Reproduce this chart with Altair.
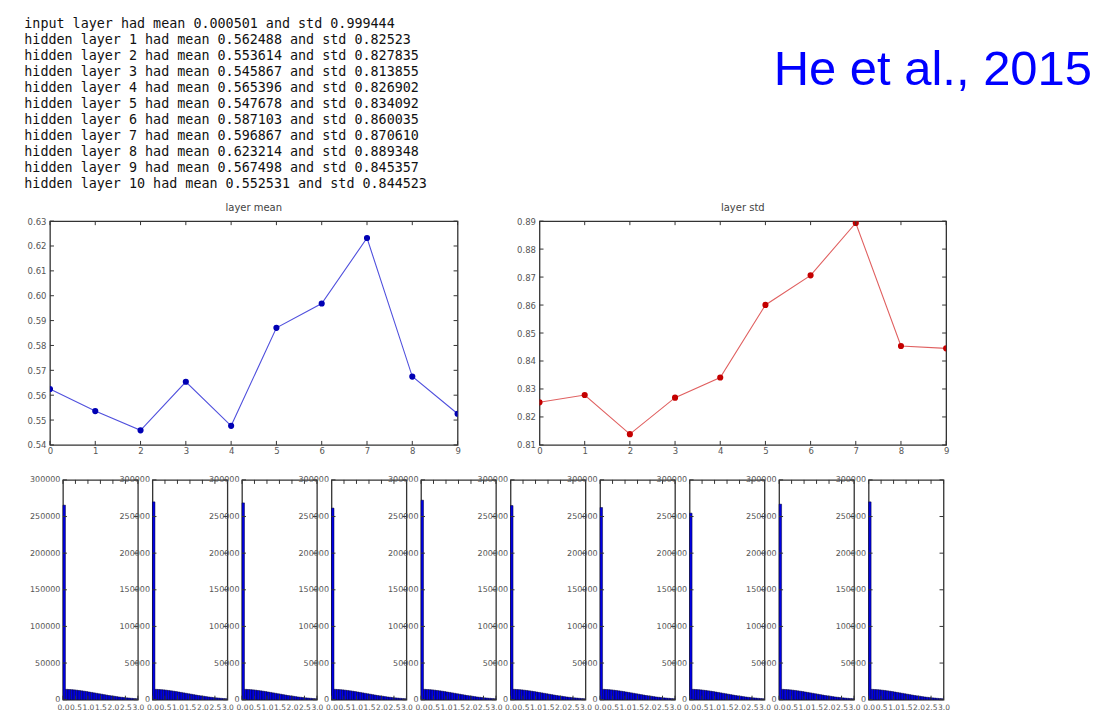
import altair as alt
import pandas as pd

# ---------------- data ----------------
log_lines = [
    "input layer had mean 0.000501 and std 0.999444",
    "hidden layer 1 had mean 0.562488 and std 0.82523",
    "hidden layer 2 had mean 0.553614 and std 0.827835",
    "hidden layer 3 had mean 0.545867 and std 0.813855",
    "hidden layer 4 had mean 0.565396 and std 0.826902",
    "hidden layer 5 had mean 0.547678 and std 0.834092",
    "hidden layer 6 had mean 0.587103 and std 0.860035",
    "hidden layer 7 had mean 0.596867 and std 0.870610",
    "hidden layer 8 had mean 0.623214 and std 0.889348",
    "hidden layer 9 had mean 0.567498 and std 0.845357",
    "hidden layer 10 had mean 0.552531 and std 0.844523",
]
citation = "He et al., 2015"

layers = [0, 1, 2, 3, 4, 5, 6, 7, 8, 9]
layer_means = [0.562488, 0.553614, 0.545867, 0.565396, 0.547678,
               0.587103, 0.596867, 0.623214, 0.567498, 0.552531]
layer_stds = [0.82523, 0.827835, 0.813855, 0.826902, 0.834092,
              0.860035, 0.870610, 0.889348, 0.845357, 0.844523]
mean_ticks = [0.54, 0.55, 0.56, 0.57, 0.58, 0.59, 0.60, 0.61, 0.62, 0.63]
std_ticks = [0.81, 0.82, 0.83, 0.84, 0.85, 0.86, 0.87, 0.88, 0.89]

hist_x_ticks = [0.0, 0.5, 1.0, 1.5, 2.0, 2.5, 3.0]
hist_y_ticks = [0, 50000, 100000, 150000, 200000, 250000, 300000]
bin_edges = [round(0.1 * i, 1) for i in range(31)]
# first bin (zeros from ReLU) of each of the 10 layers
peak_counts = [265500, 270000, 268600, 261500, 272300,
               265000, 262300, 254600, 266900, 270000]
# remaining bins (same look in every panel)
tail_counts = [14100, 13900, 13700, 13400, 13000, 12600, 12100, 11600, 11100,
               10500, 9900, 9300, 8700, 8100, 7500, 6900, 6300, 5700, 5200,
               4700, 4200, 3700, 3300, 2900, 2500, 2200, 1900, 1600, 1400]

# ---------------- style ----------------
FRAME = "#333333"
TICK_LEN = 4

line_df = pd.DataFrame({"layer": layers, "mean": layer_means, "std": layer_stds})

rows = []
for p, peak in enumerate(peak_counts):
    counts = [peak] + tail_counts
    for b, c in enumerate(counts):
        rows.append({"panel": p, "x0": bin_edges[b], "x1": bin_edges[b + 1], "count": c})
hist_df = pd.DataFrame(rows)


def inner_ticks(xvals, yvals, xscale, yscale, xaxis, yaxis, w, h):
    xt = pd.DataFrame({"tx": xvals})
    yt = pd.DataFrame({"ty": yvals})
    r = dict(color=FRAME, strokeWidth=1)
    X = alt.X("tx:Q", scale=xscale, axis=xaxis, title=None)
    Y = alt.Y("ty:Q", scale=yscale, axis=yaxis, title=None)
    top = alt.Chart(xt).mark_rule(**r).encode(x=X, y=alt.value(0), y2=alt.value(TICK_LEN))
    bot = alt.Chart(xt).mark_rule(**r).encode(x=X, y=alt.value(h), y2=alt.value(h - TICK_LEN))
    left = alt.Chart(yt).mark_rule(**r).encode(y=Y, x=alt.value(0), x2=alt.value(TICK_LEN))
    right = alt.Chart(yt).mark_rule(**r).encode(y=Y, x=alt.value(w), x2=alt.value(w - TICK_LEN))
    return [top, bot, left, right]


def line_panel(field, title, yticks, line_color, point_color, w, h):
    xscale = alt.Scale(domain=[0, 9], nice=False, zero=False, padding=0)
    yscale = alt.Scale(domain=[yticks[0], yticks[-1]], nice=False, zero=False, padding=0)
    xaxis = alt.Axis(values=layers, format="d", labelPadding=2)
    yaxis = alt.Axis(values=yticks, format=".2f", labelPadding=4)
    base = alt.Chart(line_df).encode(
        x=alt.X("layer:Q", scale=xscale, title=None, axis=xaxis),
        y=alt.Y(f"{field}:Q", scale=yscale, title=None, axis=yaxis),
    )
    line = base.mark_line(color=line_color, strokeWidth=1.1, clip=True)
    pts = base.mark_circle(color=point_color, size=38, opacity=1, clip=True)
    return alt.layer(line, pts, *inner_ticks(layers, yticks, xscale, yscale, xaxis, yaxis, w, h)).properties(
        width=w, height=h,
        title=alt.TitleParams(title, font="DejaVu Sans", fontSize=10, fontWeight="normal",
                              color="#444444", offset=4, anchor="middle", frame="group"),
    )


def hist_panel(p, w, h):
    xscale = alt.Scale(domain=[0, 3], nice=False, zero=False, padding=0)
    yscale = alt.Scale(domain=[0, 300000], nice=False, zero=True, padding=0)
    xaxis = alt.Axis(values=hist_x_ticks, format=".1f", labelPadding=4, labelFontSize=7.5)
    yaxis = alt.Axis(values=hist_y_ticks, format="d", labelPadding=3, labelFontSize=8)
    bars = alt.Chart(hist_df).transform_filter(alt.datum.panel == p).mark_bar(
        orient="vertical", fill="#0000e6", stroke="#000028", strokeWidth=0.5
    ).encode(
        x=alt.X("x0:Q", scale=xscale, title=None, axis=xaxis),
        x2="x1:Q",
        y=alt.Y("count:Q", scale=yscale, title=None, axis=yaxis),
        y2=alt.datum(0),
    )
    return alt.layer(bars, *inner_ticks(hist_x_ticks, hist_y_ticks, xscale, yscale, xaxis, yaxis, w, h)).properties(
        width=w, height=h)


# ---------------- top: log text + citation ----------------
log_df = pd.DataFrame({"i": list(range(len(log_lines))), "line": log_lines})
log_text = alt.Chart(log_df).mark_text(
    align="left", baseline="middle", font="DejaVu Sans Mono", fontSize=13.4, color="#111111"
).encode(
    y=alt.Y("i:O", axis=None, scale=alt.Scale(padding=0.39)),
    x=alt.value(-25.7),
    text="line:N",
)
cite = alt.Chart(pd.DataFrame({"t": [citation]})).mark_text(
    align="right", baseline="alphabetic", font="Liberation Sans", fontSize=49, color="#0000ff"
).encode(x=alt.value(1043), y=alt.value(67.6), text="t:N")
top = alt.layer(log_text, cite).properties(
    width=897, height=173.6, view=alt.ViewBackground(stroke="transparent"))

# ---------------- middle: mean / std ----------------
mean_chart = line_panel("mean", "layer mean", mean_ticks, "#5050dd", "#0000b4", 408, 224)
std_chart = line_panel("std", "layer std", std_ticks, "#e06060", "#c40000", 407, 224)
middle = alt.hconcat(mean_chart, std_chart, spacing=82, bounds="flush")

# ---------------- bottom: histograms ----------------
spacer = alt.Chart(pd.DataFrame({"v": [0]})).mark_point(opacity=0, size=1).encode(
    x=alt.value(0), y=alt.value(0)
).properties(width=1, height=1, view=alt.ViewBackground(stroke="transparent"))
hists = alt.hconcat(*[hist_panel(p, 75, 220) for p in range(10)], spacing=14.6, bounds="flush")
bottom = alt.hconcat(spacer, hists, spacing=12, bounds="flush")

charts = alt.vconcat(middle, bottom, spacing=18)

chart = alt.vconcat(top, charts, spacing=10).properties(
    padding={"left": 15, "top": 7, "right": 5, "bottom": 2}
).configure_view(
    stroke=FRAME, strokeWidth=1.3
).configure_axis(
    grid=False, domain=False, ticks=False,
    labelFont="DejaVu Sans", labelColor="#555555", labelFontSize=8.5,
    labelFlush=False, labelOverlap=False,
)

chart.save("out.html", embed_options={"renderer": "svg", "actions": False})
